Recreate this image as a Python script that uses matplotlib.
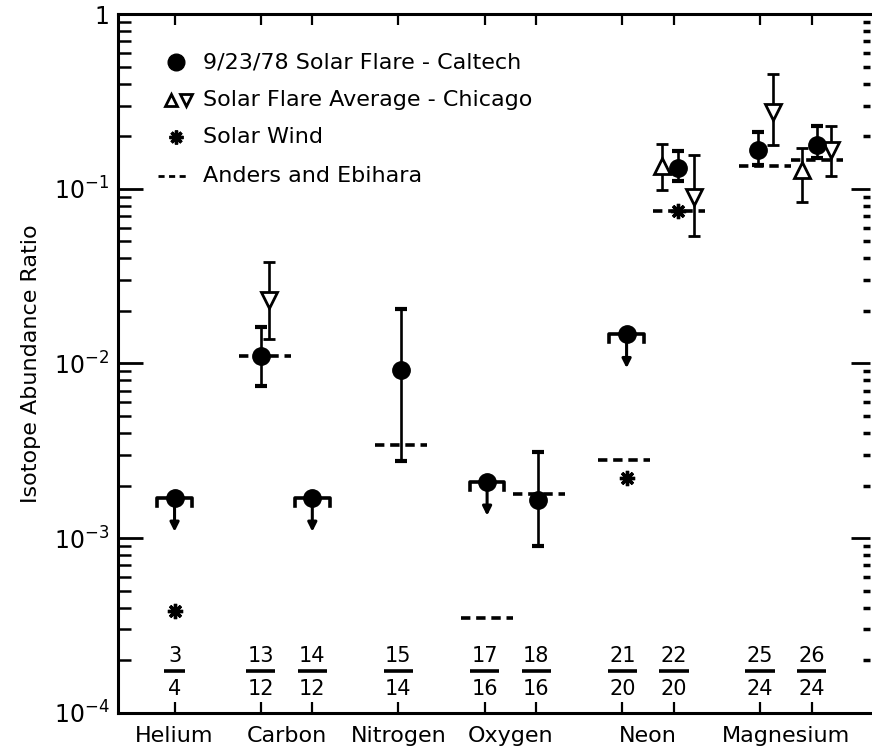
import matplotlib.pyplot as plt
import numpy as np
from matplotlib.ticker import LogLocator, NullFormatter

# isotope ratios along the x axis
ratio_num = ['3', '13', '14', '15', '17', '18', '21', '22', '25', '26']
ratio_den = ['4', '12', '12', '14', '16', '16', '20', '20', '24', '24']
ratio_pos = [0.0, 1.0, 1.6, 2.6, 3.6, 4.2, 5.2, 5.8, 6.8, 7.4]

elements = ['Helium', 'Carbon', 'Nitrogen', 'Oxygen', 'Neon', 'Magnesium']
element_pos = [0.0, 1.3, 2.6, 3.9, 5.5, 7.1]

# 9/23/78 flare (Caltech), measured ratios
caltech_idx = [1, 3, 5, 7, 8, 9]
caltech_dx = [0.0, 0.03, 0.02, 0.05, -0.02, 0.06]
caltech_val = [0.0111, 0.0092, 0.00165, 0.132, 0.166, 0.178]
caltech_hi = [0.0161, 0.0206, 0.0031, 0.164, 0.213, 0.228]
caltech_lo = [0.0074, 0.00275, 0.00090, 0.111, 0.137, 0.150]

# 9/23/78 flare (Caltech), upper limits
limit_idx = [0, 2, 4, 6]
limit_dx = [0.0, 0.0, 0.03, 0.05]
limit_val = [0.0017, 0.0017, 0.0021, 0.0147]

# solar flare average (Chicago)
chi_up_idx = [7, 9]
chi_up_dx = [-0.14, -0.11]
chi_up_val = [0.135, 0.128]
chi_up_hi = [0.180, 0.171]
chi_up_lo = [0.099, 0.084]

chi_dn_idx = [1, 7, 8, 9]
chi_dn_dx = [0.10, 0.23, 0.15, 0.22]
chi_dn_val = [0.023, 0.090, 0.277, 0.166]
chi_dn_hi = [0.038, 0.156, 0.456, 0.228]
chi_dn_lo = [0.0139, 0.054, 0.178, 0.118]

# solar wind
wind_idx = [0, 6, 7]
wind_dx = [0.0, 0.05, 0.05]
wind_val = [3.8e-4, 0.0022, 0.075]

# Anders and Ebihara
ae_idx = [1, 3, 4, 5, 6, 7, 8, 9]
ae_dx = [0.05, 0.03, 0.03, 0.03, 0.02, 0.06, 0.06, 0.06]
ae_val = [0.0111, 0.0034, 3.5e-4, 0.0018, 0.0028, 0.075, 0.135, 0.146]


def xs(idx, dx):
    return np.array([ratio_pos[i] for i in idx]) + np.array(dx)


fig = plt.figure(figsize=(8.72, 7.51), dpi=100)
ax = fig.add_axes([0.135, 0.051, 0.863, 0.930])
ax.set_yscale('log')
ax.set_ylim(1e-4, 1)
ax.set_xlim(-0.66, 8.08)

# Anders and Ebihara reference levels
x = xs(ae_idx, ae_dx)
ax.hlines(ae_val, x - 0.3, x + 0.3, colors='k', linestyles=(0, (2.6, 1.6)),
          lw=2.6, zorder=2)

# solar wind
ax.plot(xs(wind_idx, wind_dx), wind_val, ls='none', marker=(8, 2, 0),
        ms=11, mew=2.4, color='k', zorder=3)

err_kw = dict(ls='none', ecolor='k', elinewidth=1.9, capsize=4.5,
              capthick=3, zorder=4)

# Chicago flare average
v = np.array(chi_up_val)
ax.errorbar(xs(chi_up_idx, chi_up_dx), v,
            yerr=[v - np.array(chi_up_lo), np.array(chi_up_hi) - v],
            marker='^', ms=11, mfc='white', mec='k', mew=2, **err_kw)
v = np.array(chi_dn_val)
ax.errorbar(xs(chi_dn_idx, chi_dn_dx), v,
            yerr=[v - np.array(chi_dn_lo), np.array(chi_dn_hi) - v],
            marker='v', ms=11, mfc='white', mec='k', mew=2, **err_kw)

# Caltech measurements
v = np.array(caltech_val)
ax.errorbar(xs(caltech_idx, caltech_dx), v,
            yerr=[v - np.array(caltech_lo), np.array(caltech_hi) - v],
            marker='o', ms=12.5, mfc='k', mec='k', **err_kw)

# Caltech upper limits: bracket + arrow
for xi, yi in zip(xs(limit_idx, limit_dx), limit_val):
    h = 0.2
    ax.plot([xi - h, xi - h, xi + h, xi + h], [yi * 0.9, yi, yi, yi * 0.9],
            color='k', lw=2.6, solid_joinstyle='round', zorder=4)
    ax.annotate('', xy=(xi, yi * 0.64), xytext=(xi, yi),
                arrowprops=dict(arrowstyle='-|>', color='k', lw=2.2,
                                mutation_scale=13, shrinkA=0, shrinkB=0),
                zorder=4)
    ax.plot(xi, yi, 'o', ms=12.5, color='k', zorder=5)

# axes styling
for side in ['left', 'bottom', 'top']:
    ax.spines[side].set_linewidth(2.2)
ax.spines['right'].set_visible(False)

ax.set_yticks([1e-4, 1e-3, 1e-2, 1e-1, 1])
ax.set_yticklabels(['$10^{-4}$', '$10^{-3}$', '$10^{-2}$', '$10^{-1}$', '1'],
                   fontsize=17)
ax.yaxis.set_minor_locator(LogLocator(base=10, subs=np.arange(2, 10)))
ax.yaxis.set_minor_formatter(NullFormatter())
ax.tick_params(axis='y', which='major', direction='in', length=18, width=2,
               right=False, pad=6)
ax.tick_params(axis='y', which='minor', direction='in', length=9, width=1.8,
               right=False)

ax.set_xticks(ratio_pos)
ax.set_xticklabels([])
ax.tick_params(axis='x', direction='in', length=8, width=1.6, top=True)

ax.set_ylabel('Isotope Abundance Ratio', fontsize=16, labelpad=9)

# right-hand tick marks
ax2 = ax.twinx()
ax2.set_yscale('log')
ax2.set_ylim(ax.get_ylim())
ax2.yaxis.set_minor_locator(LogLocator(base=10, subs=np.arange(2, 10)))
ax2.yaxis.set_minor_formatter(NullFormatter())
ax2.set_yticks([1e-4, 1e-3, 1e-2, 1e-1, 1])
ax2.tick_params(axis='y', which='major', direction='in', length=14, width=2,
                labelright=False)
ax2.tick_params(axis='y', which='minor', direction='in', length=5, width=2.5)
for s in ax2.spines.values():
    s.set_visible(False)

# isotope fractions near the bottom
trans = ax.get_xaxis_transform()
for xp, n, d in zip(ratio_pos, ratio_num, ratio_den):
    ax.text(xp, 0.081, n, transform=trans, ha='center', va='center',
            fontsize=15)
    ax.text(xp, 0.034, d, transform=trans, ha='center', va='center',
            fontsize=15)
    w = 0.12 if len(n) == 1 else 0.17
    ax.plot([xp - w, xp + w], [0.059, 0.059], transform=trans, color='k',
            lw=2.6, solid_capstyle='butt')

for xp, name in zip(element_pos, elements):
    ax.text(xp, -0.034, name, transform=trans, ha='center', va='center',
            fontsize=16)

# legend
tx = 0.113
rows = [0.931, 0.877, 0.824, 0.768]
ax.plot(0.078, rows[0], 'o', ms=12, color='k', transform=ax.transAxes)
ax.text(tx, rows[0], '9/23/78 Solar Flare - Caltech', transform=ax.transAxes,
        va='center', fontsize=16)
ax.plot(0.071, rows[1], '^', ms=8.5, mfc='white', mec='k', mew=2,
        transform=ax.transAxes)
ax.plot(0.091, rows[1], 'v', ms=8.5, mfc='white', mec='k', mew=2,
        transform=ax.transAxes)
ax.text(tx, rows[1], 'Solar Flare Average - Chicago', transform=ax.transAxes,
        va='center', fontsize=16)
ax.plot(0.078, rows[2], ls='none', marker=(8, 2, 0), ms=10, mew=2.4,
        color='k', transform=ax.transAxes)
ax.text(tx, rows[2], 'Solar Wind', transform=ax.transAxes, va='center',
        fontsize=16)
ax.plot([0.054, 0.092], [rows[3], rows[3]], color='k', lw=2,
        ls=(0, (2.2, 1.6)), transform=ax.transAxes)
ax.text(tx, rows[3], 'Anders and Ebihara', transform=ax.transAxes,
        va='center', fontsize=16)

fig.savefig('out.png', dpi=100)
